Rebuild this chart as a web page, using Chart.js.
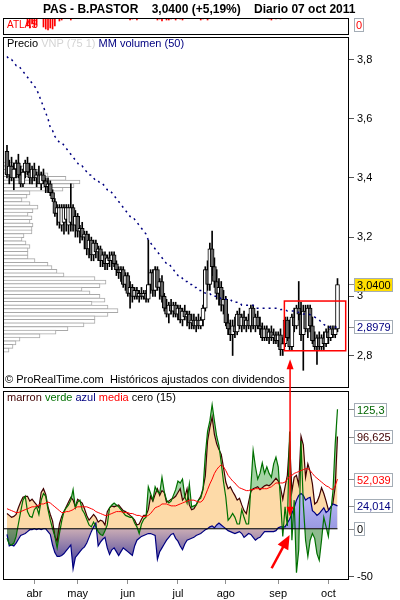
<!DOCTYPE html>
<html>
<head>
<meta charset="utf-8">
<script src="https://cdn.jsdelivr.net/npm/chart.js@4.4.1/dist/chart.umd.min.js"></script>
<style>
  body { margin: 0; background: #fff; width: 400px; height: 600px; position: relative; overflow: hidden;
         font-family: "Liberation Sans", Arial, sans-serif; }
  canvas { position: absolute; left: 0; top: 0; }
  .txt { position: absolute; font-size: 11px; line-height: 13px; white-space: pre; z-index: 5; }
</style>
</head>
<body>
<canvas id="vnpChart" width="400" height="600"></canvas>
<canvas id="priceChart" width="400" height="600"></canvas>
<canvas id="atlasChart" width="400" height="600"></canvas>
<canvas id="oscChart" width="400" height="600"></canvas>

<div class="txt" style="left:43px;top:2px;font-size:12px;line-height:14px;font-weight:bold">PAS - B.PASTOR    3,0400 (+5,19%)    Diario 07 oct 2011</div>
<div class="txt" style="left:7px;top:19px;font-size:10px;line-height:12px;color:#ff0000">ATLAS</div>
<div class="txt" style="left:7px;top:37px"><span style="color:#000">Precio</span> <span style="color:#d4d4d4">VNP (75 1)</span> <span style="color:#000080">MM volumen (50)</span></div>
<div class="txt" style="left:5px;top:373px;color:#000">© ProRealTime.com  Históricos ajustados con dividendos</div>
<div class="txt" style="left:7px;top:391px"><span style="color:#400000">marron</span> <span style="color:#007000">verde</span> <span style="color:#000080">azul</span> <span style="color:#ff0000">media</span> <span style="color:#000">cero (15)</span></div>

<script>
// daily candles, 16 mar 2011 .. 07 oct 2011 (index = trading day)
const OPEN = [3.49,3.41,3.44,3.40,3.43,3.45,3.41,3.38,3.42,3.45,
  3.42,3.40,3.43,3.40,3.41,3.38,3.41,3.39,3.37,3.38,
  3.35,3.32,3.28,3.25,3.24,3.25,3.26,3.24,3.25,3.30,
  3.24,3.27,3.22,3.23,3.20,3.21,3.16,3.19,3.14,3.18,
  3.15,3.16,3.12,3.14,3.11,3.13,3.12,3.14,3.11,3.09,
  3.08,3.09,3.04,3.07,3.01,3.03,3.00,3.02,3.00,3.01,
  3.00,3.01,2.99,3.04,3.08,3.02,3.09,3.03,3.05,3.00,
  2.96,2.94,2.97,2.95,2.97,2.94,2.96,2.92,2.95,2.93,
  2.94,2.91,2.92,2.90,2.92,2.90,2.92,2.96,3.09,3.04,
  3.16,3.10,3.05,3.01,3.03,2.97,2.99,2.91,2.89,2.87,
  2.90,2.88,2.94,2.90,2.93,2.90,2.92,2.90,2.96,2.90,
  2.93,2.90,2.89,2.86,2.89,2.86,2.88,2.86,2.87,2.85,
  2.87,2.82,2.84,2.92,2.86,2.83,2.93,2.90,2.96,2.94,
  2.87,2.95,2.89,2.96,2.90,2.85,2.83,2.86,2.83,2.86,
  2.84,2.88,2.86,2.89,2.87,2.89];
const HIGH = [3.51,3.46,3.47,3.45,3.46,3.48,3.44,3.43,3.46,3.47,
  3.45,3.44,3.45,3.42,3.44,3.42,3.43,3.40,3.40,3.39,
  3.36,3.33,3.31,3.31,3.31,3.31,3.31,3.31,3.38,3.31,
  3.29,3.28,3.24,3.25,3.22,3.22,3.21,3.20,3.19,3.19,
  3.17,3.17,3.15,3.15,3.14,3.15,3.15,3.15,3.12,3.10,
  3.10,3.10,3.08,3.08,3.05,3.04,3.03,3.03,3.02,3.03,
  3.02,3.02,3.19,3.09,3.09,3.10,3.10,3.06,3.07,3.01,
  2.99,2.98,2.99,2.98,2.98,2.97,2.97,2.96,2.97,2.95,
  2.95,2.94,2.94,2.93,2.94,2.93,2.97,3.10,3.12,3.18,
  3.22,3.13,3.09,3.06,3.05,3.02,3.00,2.94,2.92,2.92,
  2.93,2.95,2.96,2.94,2.95,2.93,2.94,2.97,2.97,2.94,
  2.95,2.93,2.91,2.90,2.90,2.89,2.90,2.89,2.88,2.88,
  2.89,2.86,2.93,2.93,2.92,2.94,2.96,2.97,3.05,2.98,
  2.97,2.97,2.97,2.97,2.93,2.88,2.87,2.88,2.87,2.88,
  2.89,2.90,2.90,2.90,2.90,3.06];
const LOW = [3.40,3.38,3.39,3.36,3.40,3.40,3.37,3.37,3.40,3.41,
  3.38,3.38,3.39,3.37,3.39,3.36,3.38,3.35,3.35,3.34,
  3.32,3.27,3.24,3.23,3.22,3.21,3.22,3.21,3.22,3.22,
  3.20,3.20,3.18,3.19,3.16,3.14,3.13,3.12,3.12,3.13,
  3.12,3.10,3.10,3.09,3.09,3.10,3.09,3.10,3.07,3.06,
  3.05,3.03,3.02,3.00,2.96,2.98,2.99,2.99,2.98,2.99,
  2.99,2.98,2.98,3.01,3.00,3.00,3.02,2.99,2.98,2.95,
  2.93,2.91,2.94,2.93,2.93,2.92,2.91,2.90,2.92,2.90,
  2.89,2.89,2.89,2.88,2.89,2.89,2.90,2.95,3.02,3.02,
  3.07,3.03,2.99,2.97,2.95,2.94,2.90,2.87,2.85,2.80,
  2.86,2.87,2.89,2.88,2.89,2.88,2.89,2.88,2.89,2.88,
  2.89,2.87,2.85,2.85,2.85,2.84,2.85,2.84,2.84,2.83,
  2.80,2.80,2.83,2.85,2.82,2.82,2.88,2.89,2.92,2.85,
  2.75,2.88,2.86,2.88,2.84,2.82,2.77,2.82,2.82,2.82,
  2.83,2.84,2.85,2.86,2.86,2.88];
const CLOSE = [3.41,3.44,3.40,3.43,3.45,3.41,3.38,3.42,3.45,3.42,
  3.40,3.43,3.40,3.41,3.38,3.41,3.39,3.37,3.38,3.35,
  3.33,3.28,3.30,3.30,3.30,3.30,3.30,3.30,3.30,3.24,
  3.27,3.22,3.23,3.20,3.21,3.16,3.19,3.14,3.18,3.15,
  3.16,3.12,3.14,3.11,3.13,3.12,3.14,3.11,3.09,3.08,
  3.09,3.04,3.07,3.01,3.03,3.00,3.02,3.00,3.01,3.00,
  3.01,2.99,3.04,3.08,3.02,3.09,3.03,3.05,3.00,2.96,
  2.94,2.97,2.95,2.97,2.94,2.96,2.92,2.95,2.93,2.94,
  2.91,2.92,2.90,2.92,2.90,2.92,2.96,3.09,3.04,3.16,
  3.10,3.05,3.01,3.03,2.97,2.99,2.91,2.89,2.87,2.90,
  2.88,2.94,2.90,2.93,2.90,2.92,2.90,2.96,2.90,2.93,
  2.90,2.89,2.86,2.89,2.86,2.88,2.86,2.87,2.85,2.87,
  2.82,2.84,2.92,2.86,2.83,2.93,2.90,2.96,2.94,2.87,
  2.95,2.89,2.96,2.90,2.85,2.83,2.86,2.83,2.86,2.84,
  2.88,2.86,2.89,2.87,2.89,3.04];
// MM volumen (50)
const MM_VOL = [3.81,3.80,3.80,3.79,3.78,3.78,3.77,3.76,3.75,3.74,
  3.73,3.72,3.71,3.70,3.68,3.66,3.64,3.62,3.60,3.57,
  3.56,3.54,3.53,3.52,3.52,3.51,3.50,3.49,3.48,3.47,
  3.46,3.45,3.44,3.44,3.43,3.42,3.41,3.41,3.40,3.39,
  3.39,3.38,3.38,3.37,3.36,3.36,3.35,3.34,3.33,3.32,
  3.31,3.30,3.29,3.28,3.27,3.27,3.26,3.25,3.24,3.23,
  3.22,3.21,3.19,3.18,3.17,3.16,3.15,3.14,3.13,3.12,
  3.11,3.11,3.10,3.09,3.08,3.07,3.07,3.06,3.05,3.05,
  3.04,3.04,3.03,3.03,3.02,3.02,3.02,3.01,3.01,3.01,
  3.00,3.00,3.00,3.00,2.99,2.99,2.99,2.99,2.99,2.98,
  2.98,2.98,2.98,2.97,2.97,2.97,2.97,2.97,2.97,2.96,
  2.96,2.96,2.96,2.96,2.96,2.96,2.96,2.96,2.96,2.96,
  2.955,2.955,2.955,2.95,2.95,2.95,2.95,2.95,2.945,2.945,
  2.94,2.94,2.94,2.938,2.935,2.93,2.925,2.92,2.912,2.905,
  2.90,2.897,2.895,2.894,2.895,2.8979];
// VNP (75 1): volume by price
const VNP_PRICE = [3.470,3.456,3.442,3.429,3.415,3.401,3.387,3.373,3.359,3.346,
  3.332,3.318,3.304,3.290,3.277,3.263,3.249,3.235,3.221,3.208,
  3.194,3.180,3.166,3.152,3.139,3.125,3.111,3.097,3.083,3.070,
  3.056,3.042,3.028,3.014,3.001,2.987,2.973,2.959,2.945,2.932,
  2.918,2.904,2.890,2.876,2.863,2.849,2.835,2.821,2.807,2.794,
  2.780,2.766,2.752];
const VNP_VOL = [17,25,35,45,63,77,71,60,27,24,
  19,27,35,30,25,29,27,30,29,29,
  21,19,23,27,25,25,25,32,45,49,
  54,61,92,103,97,79,87,97,102,89,
  105,115,105,92,92,81,65,53,37,17,
  13,10,6];
// ATLAS signals
const ATLAS_DAYS = [9,10,11,12,13,16,17,18,19,20,21,23,24,28,54,55,57,66,67,68,70,71,72,74,76,77,85,86,88,115,116,118,120];
const ATLAS_DEPTH = [8,10,6,9,7,9,11,12,10,11,8,3,2,2,2,1,2,2,1,3,2,2,1,2,1,2,2,1,2,1,2,1,1];
// oscillator (15)
const MARRON = [16,14,12,13,15,22,28,33,34,34,
  29,31,28,25,22,38,42,36,23,15,
  8,-8,-13,5,13,18,23,28,33,30,
  23,31,29,27,21,14,9,12,15,12,
  7,9,8,4,18,22,24,23,24,25,
  22,19,18,16,14,12,9,4,5,10,
  14,14,20,34,29,36,42,35,40,38,
  28,29,31,32,34,38,42,30,33,42,
  25,20,21,25,30,34,42,55,92,106,
  117,99,89,83,78,64,49,42,44,39,
  35,30,32,25,19,16,28,39,42,43,
  44,41,43,45,46,45,47,50,53,50,
  43,31,44,56,92,39,54,56,46,97,
  88,54,68,60,47,26,28,34,43,37,
  29,20,22,27,44,96.625];
const VERDE = [-10,-16,-17,-15,-8,5,18,30,34,18,
  13,12,20,23,15,30,37,34,20,9,
  0,-8,-20,-5,8,18,22,25,30,41,
  22,28,30,20,16,10,4,2,7,2,
  -3,-6,-7,-2,4,22,25,27,25,23,
  20,17,14,13,12,12,6,2,-5,5,
  10,12,44,37,30,44,39,37,54,39,
  30,27,29,35,41,50,48,52,34,27,
  47,23,24,25,30,32,41,77,102,113,
  130,113,97,87,69,49,33,9,12,16,
  12,5,5,20,12,5,5,44,82,65,
  52,58,69,58,65,58,54,68,75,65,
  30,-8,23,3,102,-12,30,-46,-22,92,
  26,-12,-29,-12,-5,-10,-26,-33,-12,12,
  2,-8,16,39,89,125.3];
const AZUL = [-6,-18,-17,-18,-15,-11,-7,-6,-5,-3,
  -1,-1,0,-1,0,-1,0,0,-3,-6,
  -17,-25,-29,-29,-28,-26,-23,-20,-17,-42,
  -30,-27,-24,-21,-19,-15,-9,-3,2,6,
  -18,-14,-11,-9,-20,-27,-22,-20,-24,-28,
  -24,-20,-22,-24,-26,-28,-18,-12,-10,-8,
  -7,-6,-5,-5,-6,-7,-32,-24,-20,-16,
  -12,-9,-6,-5,-10,-13,-18,-22,-16,-12,
  -11,-10,-9,-7,-6,-5,-3,-1,0,2,
  3,1,4,6,4,2,0,-2,-3,-4,
  -5,-4,-3,-5,-9,-7,-5,-6,-9,-12,
  -10,-9,-6,-3,-3,-3,-3,-3,-2,1,
  2,2,2,6,10,16,22,30,35,37,
  35,30,32,33,19,17,14,16,19,22,
  17,19,23,26,25,24.014];
const MEDIA = [21,20,19,18,17,17,18,19,20,21,
  22,23,23,24,25,26,26,27,28,27,
  25,23,21,19,17,17,18,18,19,20,
  22,23,23,23,23,23,22,21,20,18,
  17,16,15,14,14,15,16,17,18,18,
  18,17,17,17,16,16,15,14,14,13,
  13,13,14,16,19,22,23,24,26,26,
  26,25,24,24,24,25,26,27,28,29,
  30,30,30,29,28,28,30,35,41,47,
  52,58,62,65,67,65,61,56,53,50,
  48,45,43,42,41,40,40,41,41,42,
  42,42,42,42,42,43,44,46,48,48,
  48,48,49,52,55,56,58,59,60,61,
  62,63,63,61,58,55,53,51,49,47,
  45,44,42,41,45,52.039];
const CERO = 0;

const PRICE_TICKS = [2.8, 3, 3.2, 3.4, 3.6, 3.8];
const OSC_TICKS = [-50];
const MONTH_TICKS = [12, 31, 53, 75, 96, 119, 141];
const MONTH_LABELS = ['abr', 'may', 'jun', 'jul', 'ago', 'sep', 'oct'];

// annotations (red box + arrows)
const RECT_DAYS = [121.7, 148.6];
const RECT_PRICES = [2.816, 2.984];
const ARROW_DAY = 124.2, ARROW_PRICE = 2.787, ARROW_OSC = 12.7;
const POINTER_FROM = [116.1, -41.4];
const POINTER_TO = [124.0, -6.5];

const X_MIN = -1.75, X_MAX = 150.05;
const P_MIN = 2.6902, P_MAX = 3.876;
const O_MIN = -53.7, O_MAX = 144.4;

Chart.defaults.font.family = '"Liberation Sans", Arial, sans-serif';
Chart.defaults.font.size = 11;
Chart.defaults.color = '#000';

const N = CLOSE.length;
const pts = arr => arr.map((v, i) => ({ x: i, y: v }));
const fmt = v => String(v).replace('.', ',');
const noPlugins = { legend: { display: false }, tooltip: { enabled: false } };
const hiddenX = { type: 'linear', min: X_MIN, max: X_MAX, offset: false, display: false };

const panelBox = {
  id: 'panelBox',
  afterDraw(chart) {
    const a = chart.chartArea, c = chart.ctx;
    c.save();
    c.strokeStyle = '#000';
    c.lineWidth = 1;
    c.strokeRect(Math.round(a.left) + 0.5, Math.round(a.top) + 0.5, Math.round(a.width) - 1, Math.round(a.height) - 1);
    c.restore();
  }
};

function markerBox(c, y, text, color, fill) {
  c.save();
  c.font = '11px "Liberation Sans", Arial, sans-serif';
  const w = Math.round(c.measureText(text).width) + 4, h = 13;
  const top = Math.round(y - h / 2) + 0.5;
  c.strokeStyle = '#8c8c8c';
  c.beginPath(); c.moveTo(349, Math.round(y) + 0.5); c.lineTo(354, Math.round(y) + 0.5); c.stroke();
  c.fillStyle = fill;
  c.fillRect(354.5, top, w, h);
  c.strokeStyle = '#a4adb6';
  c.strokeRect(354.5, top, w, h);
  c.fillStyle = color;
  c.textBaseline = 'middle';
  c.textAlign = 'left';
  c.fillText(text, 357, top + h / 2 + 0.5);
  c.restore();
}

// volume profile behind the candles
new Chart('vnpChart', {
  type: 'bar',
  data: { datasets: [{
    data: VNP_PRICE.map((p, i) => ({ x: VNP_VOL[i], y: p })),
    backgroundColor: '#ffffff', borderColor: '#a8a8a8', borderWidth: 1,
    borderSkipped: 'start', barThickness: 4
  }] },
  options: {
    indexAxis: 'y', responsive: false, animation: false, events: [],
    layout: { padding: { left: 3, right: 51, top: 37, bottom: 212 } },
    scales: {
      x: { type: 'linear', min: 0, max: 346, display: false },
      y: { type: 'linear', min: P_MIN, max: P_MAX, display: false }
    },
    plugins: noPlugins
  }
});

const priceMarkers = {
  id: 'priceMarkers',
  afterDraw(chart) {
    const y = chart.scales.y;
    markerBox(chart.ctx, y.getPixelForValue(CLOSE[N - 1]), CLOSE[N - 1].toFixed(4).replace('.', ','), '#000', '#ffdd00');
    markerBox(chart.ctx, y.getPixelForValue(MM_VOL[N - 1]), fmt(MM_VOL[N - 1]), '#000080', '#ffffff');
  }
};

const priceChart = new Chart('priceChart', {
  type: 'bar',
  data: { datasets: [
    { type: 'line', data: pts(MM_VOL), borderColor: '#000080', borderWidth: 1.5, borderDash: [2, 4],
      pointRadius: 0, order: 0 },
    { data: OPEN.map((o, i) => ({ x: i, y: [o, CLOSE[i]] })),
      backgroundColor: OPEN.map((o, i) => CLOSE[i] >= o ? '#ffffff' : '#666666'),
      borderColor: '#000', borderWidth: 1, borderSkipped: false, barThickness: 4, grouped: false, order: 1 },
    { data: LOW.map((l, i) => ({ x: i, y: [l, HIGH[i]] })),
      backgroundColor: '#000', borderWidth: 0, barThickness: 1, grouped: false, order: 2 }
  ] },
  options: {
    responsive: false, animation: false, events: [],
    layout: { padding: { left: 3, right: 0, top: 37, bottom: 212 } },
    scales: {
      x: hiddenX,
      y: {
        type: 'linear', position: 'right', min: P_MIN, max: P_MAX,
        afterFit(s) { s.width = 51; },
        afterBuildTicks(s) { s.ticks = PRICE_TICKS.map(v => ({ value: v })); },
        ticks: { callback: v => fmt(v), padding: 3, font: { size: 11 } },
        grid: { drawOnChartArea: false, tickLength: 5, color: '#555' },
        border: { display: false }
      }
    },
    plugins: noPlugins
  },
  plugins: [panelBox, priceMarkers]
});

const atlasMarker = {
  id: 'atlasMarker',
  afterDraw(chart) {
    const c = chart.ctx, top = chart.chartArea.top;
    c.save();
    c.strokeStyle = '#a4adb6';
    c.strokeRect(354.5, top + 0.5, 9, 13);
    c.fillStyle = '#ff0000';
    c.font = '11px "Liberation Sans", Arial, sans-serif';
    c.textBaseline = 'middle';
    c.fillText(fmt(CERO), 356, top + 7.5);
    c.restore();
  }
};

new Chart('atlasChart', {
  type: 'bar',
  data: { datasets: [{
    data: ATLAS_DAYS.map((d, i) => ({ x: d, y: ATLAS_DEPTH[i] })),
    backgroundColor: '#ff0000', barThickness: 1
  }] },
  options: {
    responsive: false, animation: false, events: [],
    layout: { padding: { left: 3, right: 51, top: 18, bottom: 565 } },
    scales: {
      x: hiddenX,
      y: { type: 'linear', min: 0, max: 17, reverse: true, display: false }
    },
    plugins: noPlugins
  },
  plugins: [panelBox, atlasMarker]
});

function azulFill(context) {
  const chart = context.chart, y = chart.scales.y;
  if (!chart.chartArea || !y) return 'rgba(130,130,210,0.8)';
  const g = chart.ctx.createLinearGradient(0, y.getPixelForValue(45), 0, y.getPixelForValue(-45));
  g.addColorStop(0, '#c4c4ff');
  g.addColorStop(0.49, '#9a9ae2');
  g.addColorStop(0.51, '#c8aab4');
  g.addColorStop(1, '#30309a');
  return g;
}

function arrowHead(c, x1, y1, x2, y2, len, half) {
  const a = Math.atan2(y2 - y1, x2 - x1);
  c.beginPath();
  c.moveTo(x2, y2);
  c.lineTo(x2 - len * Math.cos(a) + half * Math.sin(a), y2 - len * Math.sin(a) - half * Math.cos(a));
  c.lineTo(x2 - len * Math.cos(a) - half * Math.sin(a), y2 - len * Math.sin(a) + half * Math.cos(a));
  c.closePath();
  c.fill();
}

const oscMarkers = {
  id: 'oscMarkers',
  afterDraw(chart) {
    const c = chart.ctx, y = chart.scales.y;
    markerBox(c, y.getPixelForValue(VERDE[N - 1]), fmt(VERDE[N - 1]), '#006400', '#fff');
    markerBox(c, y.getPixelForValue(MARRON[N - 1]), fmt(MARRON[N - 1]), '#400000', '#fff');
    markerBox(c, y.getPixelForValue(MEDIA[N - 1]), fmt(MEDIA[N - 1]), '#ff0000', '#fff');
    markerBox(c, y.getPixelForValue(AZUL[N - 1]), fmt(AZUL[N - 1]), '#000080', '#fff');
    markerBox(c, y.getPixelForValue(CERO), fmt(CERO), '#000', '#fff');
  }
};

const annotations = {
  id: 'annotations',
  afterDraw(chart) {
    const c = chart.ctx, xs = chart.scales.x, oy = chart.scales.y, py = priceChart.scales.y;
    c.save();
    c.strokeStyle = '#ff0000';
    c.fillStyle = '#ff0000';
    // box on the price panel
    c.lineWidth = 1.5;
    const bx1 = xs.getPixelForValue(RECT_DAYS[0]), bx2 = xs.getPixelForValue(RECT_DAYS[1]);
    const by1 = py.getPixelForValue(RECT_PRICES[1]), by2 = py.getPixelForValue(RECT_PRICES[0]);
    c.strokeRect(bx1, by1, bx2 - bx1, by2 - by1);
    // double arrow linking both panels
    const ax = xs.getPixelForValue(ARROW_DAY);
    const ay1 = py.getPixelForValue(ARROW_PRICE), ay2 = oy.getPixelForValue(ARROW_OSC);
    c.beginPath(); c.moveTo(ax, ay1 + 8); c.lineTo(ax, ay2 - 8); c.stroke();
    arrowHead(c, ax, ay2, ax, ay1, 10, 3.5);
    arrowHead(c, ax, ay1, ax, ay2, 10, 3.5);
    // pointer arrow
    const px1 = xs.getPixelForValue(POINTER_FROM[0]), py1 = oy.getPixelForValue(POINTER_FROM[1]);
    const px2 = xs.getPixelForValue(POINTER_TO[0]), py2 = oy.getPixelForValue(POINTER_TO[1]);
    c.lineWidth = 2.5;
    c.beginPath(); c.moveTo(px1, py1); c.lineTo(px1 + (px2 - px1) * 0.7, py1 + (py2 - py1) * 0.7); c.stroke();
    arrowHead(c, px1, py1, px2, py2, 14, 6);
    c.restore();
  }
};

new Chart('oscChart', {
  type: 'line',
  data: { datasets: [
    { label: 'verde', data: pts(VERDE), borderColor: '#007000', borderWidth: 1.2, pointRadius: 0,
      fill: { target: 2, above: '#a4d4a4', below: 'rgba(0,0,0,0)' }, order: 2 },
    { label: 'verde-', data: pts(VERDE), borderWidth: 0, pointRadius: 0,
      fill: { target: { value: CERO }, above: 'rgba(0,0,0,0)', below: 'rgba(30,120,30,0.5)' }, order: 3 },
    { label: 'marron', data: pts(MARRON), borderColor: '#400000', borderWidth: 1.2, pointRadius: 0,
      fill: { target: 'origin', above: '#fddaa8', below: '#fddaa8' }, order: 5 },
    { label: 'azul', data: pts(AZUL), borderColor: '#000080', borderWidth: 1.2, pointRadius: 0,
      backgroundColor: azulFill, fill: 'origin', order: 4 },
    { label: 'media', data: pts(MEDIA), borderColor: '#ff0000', borderWidth: 1, pointRadius: 0, fill: false, order: 1 },
    { label: 'cero', data: [{ x: X_MIN, y: CERO }, { x: N - 1, y: CERO }], borderColor: '#000', borderWidth: 1,
      pointRadius: 0, fill: false, order: 0 }
  ] },
  options: {
    responsive: false, animation: false, events: [],
    layout: { padding: { left: 3, right: 0, top: 391, bottom: 0 } },
    scales: {
      x: {
        type: 'linear', min: X_MIN, max: X_MAX, offset: false,
        afterFit(s) { s.height = 20; },
        afterBuildTicks(s) { s.ticks = MONTH_TICKS.map(v => ({ value: v })); },
        ticks: { callback: (v, i) => MONTH_LABELS[i], autoSkip: false, maxRotation: 0, padding: 3, font: { size: 11 } },
        grid: { drawOnChartArea: false, tickLength: 4, color: '#909090' },
        border: { display: false }
      },
      y: {
        type: 'linear', position: 'right', min: O_MIN, max: O_MAX,
        afterFit(s) { s.width = 51; },
        afterBuildTicks(s) { s.ticks = OSC_TICKS.map(v => ({ value: v })); },
        ticks: { callback: v => fmt(v), padding: 3, font: { size: 11 } },
        grid: { drawOnChartArea: false, tickLength: 5, color: '#555' },
        border: { display: false }
      }
    },
    plugins: Object.assign({ filler: { drawTime: 'beforeDatasetsDraw' } }, noPlugins)
  },
  plugins: [panelBox, oscMarkers, annotations]
});
</script>
</body>
</html>
